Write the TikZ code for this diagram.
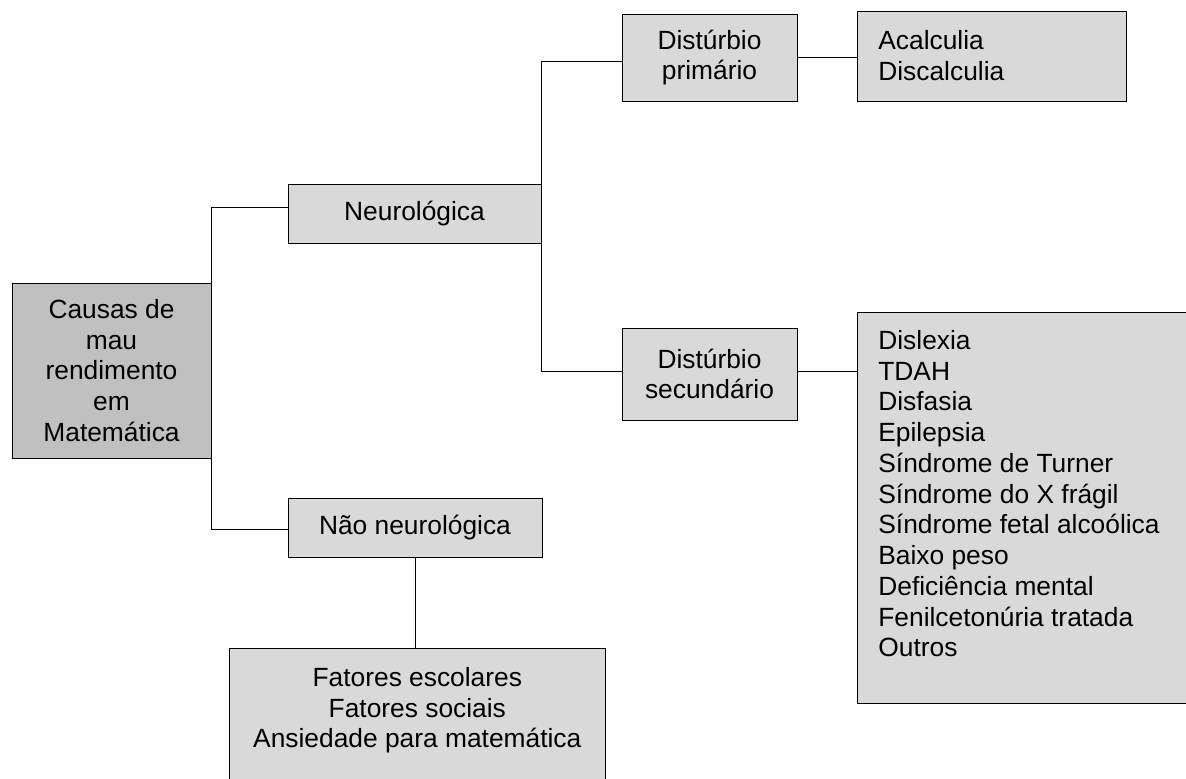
\documentclass[tikz,border=0pt]{standalone}
\usepackage{fontspec}
\setmainfont{Liberation Sans}
\definecolor{boxgray}{HTML}{D9D9D9}
\definecolor{rootgray}{HTML}{C0C0C0}
\tikzset{
    line width=1pt,
    box/.style ={rectangle, draw, fill=boxgray, inner sep=0pt, align=center, font=\fontsize{15pt}{17.5pt}\selectfont},
    textbox/.style ={rectangle, draw, fill=boxgray, anchor=north west, inner xsep=0.42cm, inner ysep=0.4cm, font=\fontsize{15pt}{17.5pt}\selectfont}
}

\begin{document}
\begin{tikzpicture}[x=0.02cm, y=-0.02cm]
	\tikzstyle{b}=[box]
	\tikzstyle{r}=[box, fill=rootgray]
	\useasboundingbox (0,0) rectangle (1186,778);

	\node (root) [r, minimum width=3.98cm, minimum height=3.5cm] at (111.5,370.5) {Causas de\\mau\\rendimento\\em\\Matemática};
	\node (neuro) [b, minimum width=5.06cm, minimum height=1.18cm] at (414.5,213.5) {Neurológica};
	\node (nao) [b, minimum width=5.08cm, minimum height=1.18cm] at (415,527.5) {Não neurológica};
	\node (prim) [b, minimum width=3.5cm, minimum height=1.74cm] at (709.5,57.5) {Distúrbio\\primário};
	\node (sec) [b, minimum width=3.5cm, minimum height=1.84cm] at (709.5,374) {Distúrbio\\secundário};
	\node (acal) [textbox, inner ysep=0.38cm] at (857,11) {\parbox[c][1.04cm][t]{4.54cm}{Acalculia\\Discalculia}};
	\node (list) [textbox, inner ysep=0.36cm] at (857,312) {\parbox[c][7.1cm][t]{5.9cm}{Dislexia\\TDAH\\Disfasia\\Epilepsia\\Síndrome de Turner\\Síndrome do X frágil\\Síndrome fetal alcoólica\\Baixo peso\\Deficiência mental\\Fenilcetonúria tratada\\Outros}};
	\node (fat) [textbox, inner ysep=0.38cm] at (229,648) {\parbox[c][2.2cm][t]{6.68cm}{\centering Fatores escolares\\Fatores sociais\\Ansiedade para matemática}};

	\draw ([yshift=0.13cm]neuro.west) -| (root.east) |- ([yshift=-0.03cm]nao.west);
	\draw ([yshift=-0.07cm]prim.west) -| (neuro.east) |- ([yshift=0.06cm]sec.west);
	\draw (prim.east) -- (prim.east -| acal.west);
	\coordinate (s) at ([yshift=0.06cm]sec.east);
	\draw (s) -- (s -| list.west);
	\draw (nao.south) -- (nao.south |- fat.north);
\end{tikzpicture}
\end{document}
